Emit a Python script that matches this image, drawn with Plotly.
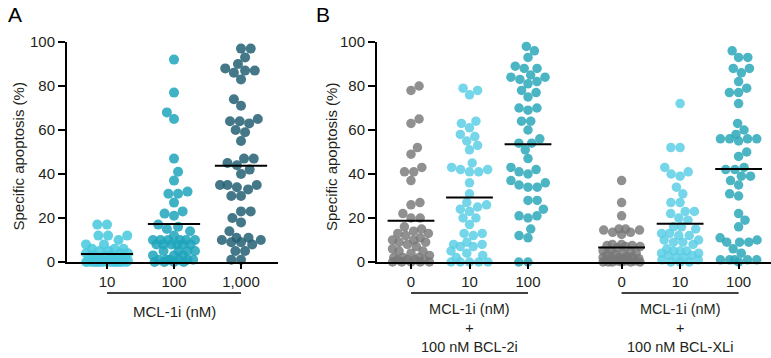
import numpy as np
import plotly.graph_objects as go

W, H = 771, 358

# ---------------- data (specific apoptosis, %) ----------------
a_ticklabels = ["10", "100", "1,000"]
a_mcl_10 = [17, 17, 12, 12, 12, 10, 8, 8, 6, 6, 6, 5, 5, 4, 4, 4, 3, 3, 3, 2, 2, 2, 2,
            1, 1, 1, 1, 1, 0.5, 0.5, 0, 0, 0, 0, 0, 0, 0, 0, 0, 0, 0, 0, 0, 0]
a_mcl_100 = [92, 77, 68, 65, 47, 41, 37, 32, 31, 31, 27, 23, 21, 22, 17, 16, 15, 14, 12,
             10, 10, 10, 10, 10, 10, 8, 8, 8, 8, 8, 8, 5, 5, 5, 5, 3, 3, 3,
             1, 1, 1, 1, 1, 1, 0, 0, 0, 0]
a_mcl_1000 = [97, 97, 93, 90, 88, 87, 87, 86, 83, 74, 71, 65, 64, 64, 63, 60, 59, 55,
              47, 47, 45, 44, 42, 40, 35, 35, 35, 34, 33, 30, 30, 23, 23, 20, 18, 14,
              11, 10, 9, 8, 9, 10, 11, 5, 5, 1, 1]

b_ticklabels = ["0", "10", "100", "0", "10", "100"]
b_bcl2_0 = [80, 78, 65, 63, 52, 49, 43, 41, 41, 37, 27, 26, 22, 20, 20, 16, 15, 14, 13, 13,
            12, 11, 10, 10, 9, 9, 8, 7, 6, 5, 5, 4, 3, 2, 2, 2, 1, 1, 1, 1, 0, 0, 0, 0, 0]
b_bcl2_10 = [79, 78, 76, 64, 63, 61, 58, 57, 55, 53, 51, 45, 43, 42, 42, 41, 41, 36, 31, 27,
             26, 25, 24, 23, 20, 20, 17, 13, 13, 12, 9, 8, 8, 7, 7, 5, 4, 3, 2, 0, 0, 0, 0, 0]
b_bcl2_100 = [98, 96, 93, 89, 88, 88, 85, 84, 82, 81, 83, 84, 78, 75, 77, 70, 69, 70, 64, 64,
              60, 56, 54, 54, 51, 47, 43, 41, 40, 42, 37, 35, 34, 34, 36, 28, 28, 21, 20, 21,
              24, 12, 11, 15, 0, 0]
b_bclxl_0 = [37, 27, 21, 15, 15, 14.5, 14.5, 13.5, 13.5, 12.5, 8, 8, 7.5, 7.5, 7, 7, 6.5,
             5, 5, 4.5, 4, 4, 3.5, 3.5, 2.5, 2, 2, 2, 1.5, 1.5, 1.5, 1, 1, 1, 0.5, 0.5, 0.5,
             0, 0, 0, 0, 0, 0]
b_bclxl_10 = [72, 52, 52, 43, 41, 40, 39, 34, 31, 27, 27, 23, 23, 22, 20, 19, 16, 16, 15, 13,
              13, 12, 12, 10, 10, 9, 9, 8, 6, 5, 5, 5, 4, 4, 3, 3, 2, 2, 1, 1, 0, 0, 0]
b_bclxl_100 = [96, 93, 93, 88, 88, 86, 82, 79, 77, 77, 72, 63, 60, 58, 56, 56, 55, 56, 56, 48,
               50, 42, 42, 43, 39, 37, 39, 35, 31, 30, 22, 19, 16, 10, 9, 9, 11, 6, 9, 4,
               1, 1, 1, 1, 1, 0]

# ---------------- styling / geometry ----------------
FONT = "Liberation Sans, Arial, Helvetica, sans-serif"
TXT = "#231f20"
Y0_PX, Y100_PX = 262, 42
YPX = (Y0_PX - Y100_PX) / 100.0

A_LEFT, A_RIGHT, A_CAT0, A_STEP = 67, 278, 107, 67.0
B_LEFT, B_RIGHT, B_CAT0, B_STEP = 377, 771, 411, 58.5

a_pos = [0, 1, 2]
b_pos = [0, 1, 2, 3.6, 4.6, 5.6]

C_LIGHT_A = "rgba(70,200,222,0.85)"
C_MID_A = "rgba(30,165,188,0.85)"
C_DARK_A = "rgba(35,96,116,0.85)"
C_GRAY = "rgba(120,120,120,0.82)"
C_LIGHT_B = "rgba(88,205,228,0.82)"
C_MID_B = "rgba(45,168,186,0.85)"


def px2paper_x(p):
    return p / W


def px2paper_y(p):
    return 1 - p / H


def swarm(vals, d, maxhalf):
    """Beeswarm offsets in pixels; dense rows are squeezed to maxhalf."""
    vals = np.asarray(vals, dtype=float)
    order = np.argsort(vals, kind="stable")
    placed = []
    offs = np.zeros(len(vals))
    grid = np.linspace(-maxhalf, maxhalf, 29)
    for k, i in enumerate(order):
        y = vals[i] * YPX
        cands = [0.0]
        for (px, py) in placed:
            dy = y - py
            if abs(dy) < d:
                dx = np.sqrt(d * d - dy * dy)
                cands += [px + dx, px - dx]
        cands = [c for c in cands if abs(c) <= maxhalf + 1e-9]
        sgn = 1 if k % 2 == 0 else -1
        cands.sort(key=lambda c: (round(abs(c), 6), -sgn * c))
        best = None
        for c in cands:
            if all((c - px) ** 2 + (y - py) ** 2 >= d * d - 1e-6 for px, py in placed):
                best = c
                break
        if best is None:
            near = [(px, py) for px, py in placed if abs(py - y) < d]
            scores = []
            for g in grid:
                md = min(np.hypot(g - px, y - py) for px, py in near)
                scores.append((-round(md, 3), abs(g), g))
            best = sorted(scores)[0][2]
        placed.append((best, y))
        offs[i] = best
    return offs


fig = go.Figure()


def add_group(vals, pos, step, color, size, maxhalf, xa, ya):
    offs = swarm(vals, size * 0.97, maxhalf) / step
    fig.add_trace(go.Scatter(
        x=pos + offs, y=vals, mode="markers", xaxis=xa, yaxis=ya,
        marker=dict(size=size, color=color, line=dict(width=0)),
        cliponaxis=False, showlegend=False, hoverinfo="y"))


def add_mean(vals, pos, half, xa, ya):
    m = float(np.mean(vals))
    fig.add_trace(go.Scatter(
        x=[pos - half, pos + half], y=[m, m], mode="lines", xaxis=xa, yaxis=ya,
        line=dict(color="black", width=2), cliponaxis=False, showlegend=False,
        hoverinfo="skip"))


a_groups = [(a_mcl_10, C_LIGHT_A), (a_mcl_100, C_MID_A), (a_mcl_1000, C_DARK_A)]
for (vals, col), p in zip(a_groups, a_pos):
    add_group(vals, p, A_STEP, col, 10, 21, "x", "y")
for (vals, col), p in zip(a_groups, a_pos):
    add_mean(vals, p, 0.39, "x", "y")

b_groups = [(b_bcl2_0, C_GRAY), (b_bcl2_10, C_LIGHT_B), (b_bcl2_100, C_MID_B),
            (b_bclxl_0, C_GRAY), (b_bclxl_10, C_LIGHT_B), (b_bclxl_100, C_MID_B)]
for (vals, col), p in zip(b_groups, b_pos):
    add_group(vals, p, B_STEP, col, 9.5, 18.5, "x2", "y2")
for (vals, col), p in zip(b_groups, b_pos):
    add_mean(vals, p, 0.40, "x2", "y2")

ydom = [px2paper_y(Y0_PX), px2paper_y(Y100_PX)]
axis_common = dict(showline=True, linecolor="black", linewidth=2, ticks="outside",
                   tickwidth=1.8, tickcolor="black", showgrid=False, zeroline=False,
                   automargin=False, tickfont=dict(family=FONT, size=15, color=TXT))

yax = dict(axis_common, range=[0, 100], tickvals=[0, 20, 40, 60, 80, 100], ticklen=7,
           domain=ydom, fixedrange=True)

fig.update_layout(
    width=W, height=H, margin=dict(l=0, r=0, t=0, b=0, autoexpand=False),
    paper_bgcolor="white", plot_bgcolor="white",
    xaxis=dict(axis_common, domain=[px2paper_x(A_LEFT), px2paper_x(A_RIGHT)],
               range=[(A_LEFT - A_CAT0) / A_STEP, (A_RIGHT - A_CAT0) / A_STEP],
               tickvals=a_pos, ticktext=a_ticklabels, ticklen=5, anchor="y"),
    yaxis=dict(yax, anchor="x"),
    xaxis2=dict(axis_common, domain=[px2paper_x(B_LEFT), px2paper_x(B_RIGHT)],
                range=[(B_LEFT - B_CAT0) / B_STEP, (B_RIGHT - B_CAT0) / B_STEP],
                tickvals=b_pos, ticktext=b_ticklabels, ticklen=5, anchor="y2"),
    yaxis2=dict(yax, anchor="x2"),
)

# brackets under the categories
br_y = px2paper_y(293)
fig.add_shape(type="line", xref="x", yref="paper", x0=a_pos[0], x1=a_pos[2], y0=br_y, y1=br_y,
              line=dict(color="black", width=1.5))
fig.add_shape(type="line", xref="x2", yref="paper", x0=b_pos[0], x1=b_pos[2], y0=br_y, y1=br_y,
              line=dict(color="black", width=1.5))
fig.add_shape(type="line", xref="x2", yref="paper", x0=b_pos[3], x1=b_pos[5], y0=br_y, y1=br_y,
              line=dict(color="black", width=1.5))


def note(text, x, y, xref="paper", size=15, xanchor="center", color=TXT, **kw):
    fig.add_annotation(text=text, x=x, y=y, xref=xref, yref="paper", showarrow=False,
                       xanchor=xanchor, yanchor="middle",
                       font=dict(family=FONT, size=size, color=color), **kw)


note("MCL-1i (nM)", a_pos[1], px2paper_y(311), xref="x")
for c0, c1, extra in [(0, 2, "100 nM BCL-2i"), (3, 5, "100 nM BCL-XLi")]:
    mid = (b_pos[c0] + b_pos[c1]) / 2
    note("MCL-1i (nM)<br>+<br>" + extra, mid, px2paper_y(328), xref="x2", size=14.5)

note("Specific apoptosis (%)", px2paper_x(17.5), px2paper_y(157), textangle=-90)
note("Specific apoptosis (%)", px2paper_x(331), px2paper_y(157), textangle=-90)
note("A", px2paper_x(6), px2paper_y(14), size=21, xanchor="left", color="black")
note("B", px2paper_x(314), px2paper_y(14), size=21, xanchor="left", color="black")

fig.write_html("out.html")
